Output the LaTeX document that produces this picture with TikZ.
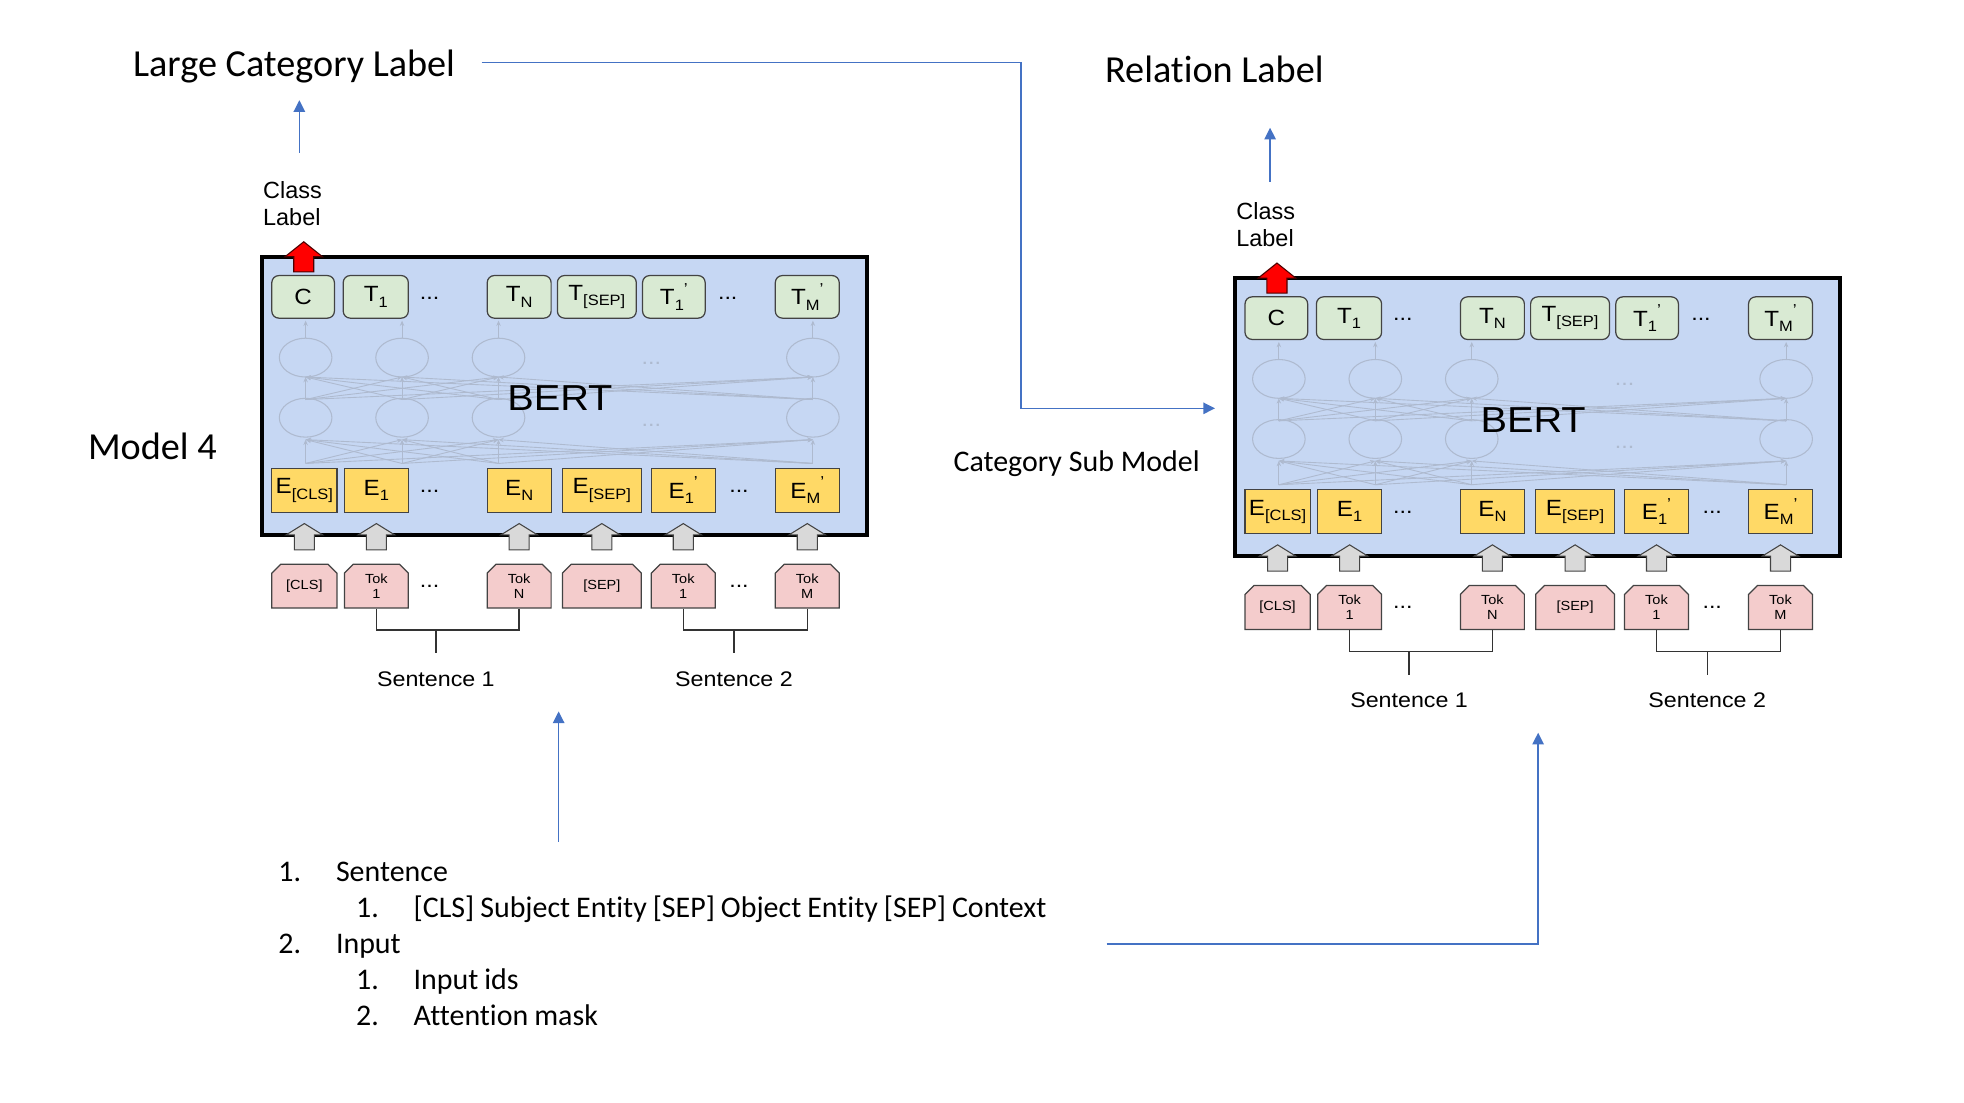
\documentclass[tikz,border=0pt]{standalone}
\usepackage{fontspec}
\setmainfont{Liberation Sans}
\newfontfamily\cali[Ligatures=NoCommon]{Carlito}
\newfontfamily\bertfont[FakeStretch=1.1]{Liberation Sans}
\usetikzlibrary{arrows.meta,shapes.misc}

\definecolor{bertblue}{HTML}{C6D7F3}
\definecolor{tgreen}{HTML}{D9EAD3}
\definecolor{eyellow}{HTML}{FFD966}
\definecolor{tokpink}{HTML}{F4CCCC}
\definecolor{arrowgrey}{HTML}{D9D9D9}
\definecolor{boxedge}{HTML}{434343}
\definecolor{netgrey}{HTML}{AEBACF}
\definecolor{linkblue}{HTML}{4472C4}

\newlength\pu
\setlength\pu{0.025cm}
\newcommand{\sub}[1]{\raisebox{-0.45ex}{\fontsize{8.5}{9}\selectfont #1}}
\newcommand{\prm}{\raisebox{0.9ex}{\fontsize{9}{9}\selectfont ’}}

\tikzset{
  bertbox/.style={draw=black, line width=2pt, fill=bertblue, minimum width=483\pu, minimum height=222\pu, inner sep=0pt},
  tbox/.style={draw=boxedge, line width=0.7pt, fill=tgreen, rounded corners=4pt, minimum height=34\pu, inner sep=0pt, font=\bertfont\fontsize{12.5}{15}\selectfont},
  ebox/.style={draw=boxedge, line width=0.7pt, fill=eyellow, minimum height=35\pu, inner sep=0pt, font=\bertfont\fontsize{12.5}{15}\selectfont},
  tokbox/.style={chamfered rectangle, chamfered rectangle corners={north west,north east}, chamfered rectangle xsep=2.5pt, chamfered rectangle ysep=2.5pt, draw=boxedge, line width=0.7pt, fill=tokpink, minimum height=35\pu, inner sep=0pt, align=center, font=\bertfont\fontsize{7.5}{8.5}\selectfont},
  netline/.style={draw=netgrey, line width=0.5pt, -{Stealth[length=3pt,width=2.5pt]}},
  neuron/.style={draw=netgrey, line width=0.6pt},
  netdots/.style={text=netgrey, font=\bertfont\fontsize{12}{14}\selectfont},
  rowdots/.style={font=\bertfont\fontsize{12}{14}\selectfont},
  greyup/.style={draw=boxedge, line width=0.6pt, fill=arrowgrey},
  redup/.style={draw=black!70!red, line width=0.6pt, fill=red},
  bracket/.style={draw=black!80, line width=0.8pt},
  senttext/.style={font=\bertfont\fontsize{12}{14}\selectfont},
  classtext/.style={align=left, inner sep=0pt, font=\fontsize{13.3}{15}\selectfont},
  bigtitle/.style={inner sep=0pt, font=\cali\fontsize{21.7}{26}\selectfont},
  subtitle/.style={inner sep=0pt, font=\cali\fontsize{17}{20.4}\selectfont},
  listtext/.style={inner sep=0pt, align=left, font=\cali\fontsize{17}{20.4}\selectfont},
  link/.style={draw=linkblue, line width=0.8pt, -{Triangle[length=6.6pt,width=6.5pt]}},
}

\begin{document}
\begin{tikzpicture}[x=1\pu, y=-1\pu]
\useasboundingbox (0,0) rectangle (1568,880);

% titles
\node[bigtitle, anchor=base west] (lcl) at (106,61) {Large Category Label};
\node[bigtitle, anchor=base west] (rel) at (882,66) {Relation Label};
\node[bigtitle, anchor=base west] (model) at (70,367) {Model 4};
\node[subtitle, anchor=base west] (catsub) at (761,376.6) {Category Sub Model};

% the two BERT models
\foreach \m/\dx/\dy in {A/0/0,B/777/17}{
\begin{scope}[shift={(\dx,\dy)}]
\node[bertbox] (\m box) at (450.5,316) {};

\foreach \i in {244,321,398,649}{
  \draw[neuron] (\i,285.5) ellipse [x radius=21, y radius=15.5];
  \draw[neuron] (\i,333.5) ellipse [x radius=21, y radius=15.5];
  \draw[netline] (\i,270) -- (\i,256);
  \foreach \j in {244,321,398,649}{
    \draw[netline] (\i,370) -- (\j,351);
    \draw[netline] (\i,319) -- (\j,301);
  }
}
\node[netdots] (\m nd1) at (520,290) {...};
\node[netdots] (\m nd2) at (520,340) {...};
\node[font=\bertfont\fontsize{20.5}{24}\selectfont] (\m lbl) at (447,318) {BERT};

\foreach \n/\x/\w/\t in {C/242/50/{C}, T1/300/52/{T\sub{1}}, TN/414.5/51/{T\sub{N}}, TS/476.5/63/{T\sub{[SEP]}}, TP/538/50/{T\sub{1}\prm}, TM/644.5/51/{T\sub{M}\prm}}
  \node[tbox, minimum width=\w\pu] (\m\n) at (\x,237) {\t};

\foreach \n/\x/\w/\t in {ECLS/243/52/{E\sub{[CLS]}}, E1/300.5/51/{E\sub{1}}, EN/414.5/51/{E\sub{N}}, ES/480.5/63/{E\sub{[SEP]}}, EP/545.5/51/{E\sub{1}\prm}, EM/644.5/51/{E\sub{M}\prm}}
  \node[ebox, minimum width=\w\pu] (\m\n) at (\x,391.5) {\t};

\foreach \n/\x/\w/\t in {K0/243/52/{[CLS]}, K1/300.5/51/{Tok\\1}, KN/414.5/51/{Tok\\N}, KS/480.5/63/{[SEP]}, KP/545.5/51/{Tok\\1}, KM/644.5/51/{Tok\\M}}
  \node[tokbox, minimum width=\w\pu] (\m\n) at (\x,468) {\t};

\node[rowdots] (\m dt1) at (343,238) {...};
\node[rowdots] (\m dt2) at (581,238) {...};
\node[rowdots] (\m de1) at (343,392) {...};
\node[rowdots] (\m de2) at (590,392) {...};
\node[rowdots] (\m dk1) at (343,468) {...};
\node[rowdots] (\m dk2) at (590,468) {...};

% block arrows
\foreach \x in {243,300.5,414.5,480.5,545.5,644.5}
  \draw[greyup] (\x-8,439) -- (\x-8,427) -- (\x-14.5,427) -- (\x,418) -- (\x+14.5,427) -- (\x+8,427) -- (\x+8,439) -- cycle;
\draw[redup] (234.5,217) -- (234.5,205) -- (227.5,205) -- (242.5,193) -- (257.5,205) -- (250.5,205) -- (250.5,217) -- cycle;

\node[classtext] (\m cls) at (233.5,162.5) {Class\\Label};

% sentence brackets
\node[senttext] (\m S1) at (348,542) {Sentence 1};
\node[senttext] (\m S2) at (586,542) {Sentence 2};
\coordinate (\m b1) at (348,503);
\coordinate (\m b1e) at (348,521.5);
\coordinate (\m b2) at (586,503);
\coordinate (\m b2e) at (586,521.5);
\draw[bracket] (\m K1.south) |- (\m b1) -| (\m KN.south);
\draw[bracket] (\m b1) -- (\m b1e);
\draw[bracket] (\m KP.south) |- (\m b2) -| (\m KM.south);
\draw[bracket] (\m b2) -- (\m b2e);
\end{scope}
}

% input description
\node[listtext, anchor=west, text width=661\pu] (inlist) at (222,753.5) {\spaceskip=0.2em\relax
\makebox[46\pu][l]{1.}Sentence\\
\hspace*{62\pu}\makebox[46\pu][l]{1.}[CLS] Subject Entity [SEP] Object Entity [SEP] Context\\
\makebox[46\pu][l]{2.}Input\\
\hspace*{62\pu}\makebox[46\pu][l]{1.}Input ids\\
\hspace*{62\pu}\makebox[46\pu][l]{2.}Attention mask};

% blue connectors
\coordinate (upA0) at (239,122);
\coordinate (upA1) at (239,80);
\coordinate (upB0) at (1014,145);
\coordinate (upB1) at (1014,102);
\coordinate (inTop) at (446,672);
\coordinate (inTip) at (446,568);
\coordinate (bend) at (815,326);
\coordinate (tipA) at (970,326);
\coordinate (tipB) at (1228,585);
\draw[link] (upA0) -- (upA1);
\draw[link] (upB0) -- (upB1);
\draw[link] (inTop) -- (inTip);
\draw[link] ([xshift=21\pu,yshift=3\pu]lcl.east) -| (bend) -- (tipA);
\draw[link] (inlist.east) -| (tipB);

\end{tikzpicture}
\end{document}
